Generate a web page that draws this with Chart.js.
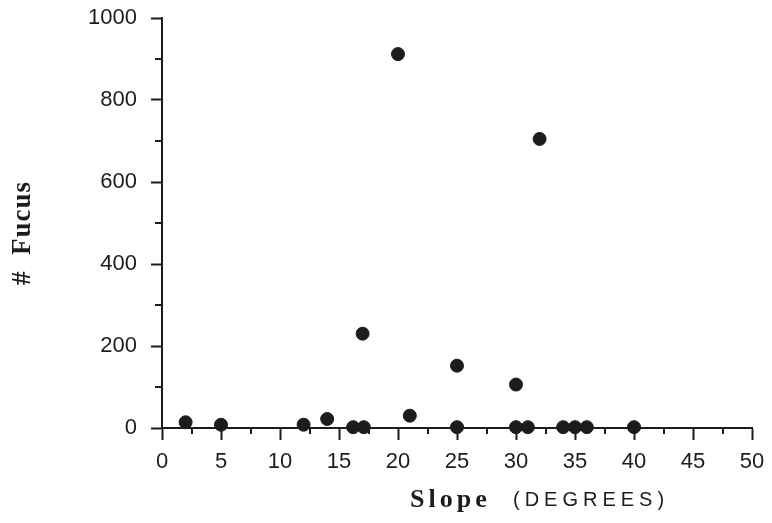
<!DOCTYPE html>
<html>
<head>
<meta charset="utf-8">
<script src="https://cdn.jsdelivr.net/npm/chart.js@4"></script>
<style>
  html, body { margin: 0; padding: 0; background: #fff; }
  #wrap { width: 772px; height: 523px; }
</style>
</head>
<body>
<div id="wrap"><canvas id="c" width="772" height="523"></canvas></div>
<script>
// Data
const slopeDeg = [2, 5, 12, 14, 16.2, 17.1, 21, 25, 20, 32, 17, 25, 30, 30, 31, 34, 35, 36, 40];
const fucusCount = [14, 8, 8, 22, 2, 2, 30, 2, 912, 705, 230, 152, 106, 2, 2, 2, 2, 2, 2];
const xTickValues = [0, 5, 10, 15, 20, 25, 30, 35, 40, 45, 50];
const yTickValues = [0, 200, 400, 600, 800, 1000];
const xMinorTicks = [2.5, 7.5, 12.5, 17.5, 22.5, 27.5, 32.5, 37.5, 42.5, 47.5];
const yMinorTicks = [100, 300, 500, 700, 900];
const yTitle = '#  Fucus';
const xTitleMain = 'Slope';
const xTitleUnit = '(DEGREES)';

const points = slopeDeg.map((x, i) => ({ x: x, y: fucusCount[i] }));
const INK = '#1c1c1c';

const extras = {
  id: 'extras',
  afterDraw(chart) {
    const ctx = chart.ctx;
    const xs = chart.scales.x, ys = chart.scales.y;
    const area = chart.chartArea;
    ctx.save();
    ctx.strokeStyle = INK;
    ctx.lineWidth = 2;
    ctx.beginPath();
    xMinorTicks.forEach(v => {
      const px = Math.round(xs.getPixelForValue(v));
      ctx.moveTo(px, area.bottom);
      ctx.lineTo(px, area.bottom + 6);
    });
    yMinorTicks.forEach(v => {
      const py = Math.round(ys.getPixelForValue(v));
      ctx.moveTo(area.left, py);
      ctx.lineTo(area.left - 7, py);
    });
    ctx.stroke();

    // Y title
    ctx.fillStyle = INK;
    ctx.font = 'bold 27px "Liberation Serif", "Times New Roman", serif';
    ctx.letterSpacing = '1px';
    ctx.textAlign = 'center';
    ctx.textBaseline = 'middle';
    ctx.translate(23, 233);
    ctx.rotate(-Math.PI / 2);
    ctx.fillText(yTitle, 0, 0);
    ctx.restore();

    // X title
    ctx.save();
    ctx.fillStyle = INK;
    ctx.textBaseline = 'alphabetic';
    ctx.textAlign = 'left';
    ctx.font = 'bold 26px "Liberation Serif", "Times New Roman", serif';
    ctx.letterSpacing = '4px';
    ctx.fillText(xTitleMain, 410, 507);
    ctx.font = '20px "Liberation Sans", Arial, sans-serif';
    ctx.letterSpacing = '5px';
    ctx.fillText(xTitleUnit, 513, 506);
    ctx.restore();
  }
};

new Chart(document.getElementById('c'), {
  type: 'scatter',
  data: {
    datasets: [{
      data: points,
      backgroundColor: INK,
      borderColor: INK,
      borderWidth: 1,
      pointRadius: 6.5,
      pointHoverRadius: 6.5,
      clip: false
    }]
  },
  options: {
    responsive: false,
    devicePixelRatio: 1,
    animation: false,
    layout: { padding: { top: 18, right: 20, left: 0, bottom: 0 } },
    plugins: { legend: { display: false }, tooltip: { enabled: false } },
    scales: {
      x: {
        type: 'linear',
        min: 0, max: 50,
        afterBuildTicks: s => { s.ticks = xTickValues.map(v => ({ value: v })); },
        afterFit: s => { s.height = 95; s.paddingLeft = 0; s.paddingRight = 0; },
        border: { display: true, color: INK, width: 2 },
        grid: { drawOnChartArea: false, drawTicks: true, tickLength: 12, tickColor: INK, tickWidth: 2 },
        ticks: {
          color: INK,
          padding: 9,
          callback: v => String(v),
          font: { family: '"Liberation Sans", Arial, sans-serif', size: 22 },
          maxRotation: 0, autoSkip: false
        }
      },
      y: {
        type: 'linear',
        min: 0, max: 1000,
        afterBuildTicks: s => { s.ticks = yTickValues.map(v => ({ value: v })); },
        afterFit: s => { s.width = 162; s.paddingTop = 0; s.paddingBottom = 0; },
        border: { display: true, color: INK, width: 2 },
        grid: { drawOnChartArea: false, drawTicks: true, tickLength: 11, tickColor: INK, tickWidth: 2 },
        ticks: {
          color: INK,
          padding: 14,
          callback: v => String(v),
          font: { family: '"Liberation Sans", Arial, sans-serif', size: 22 }
        }
      }
    }
  },
  plugins: [extras]
});
</script>
</body>
</html>
